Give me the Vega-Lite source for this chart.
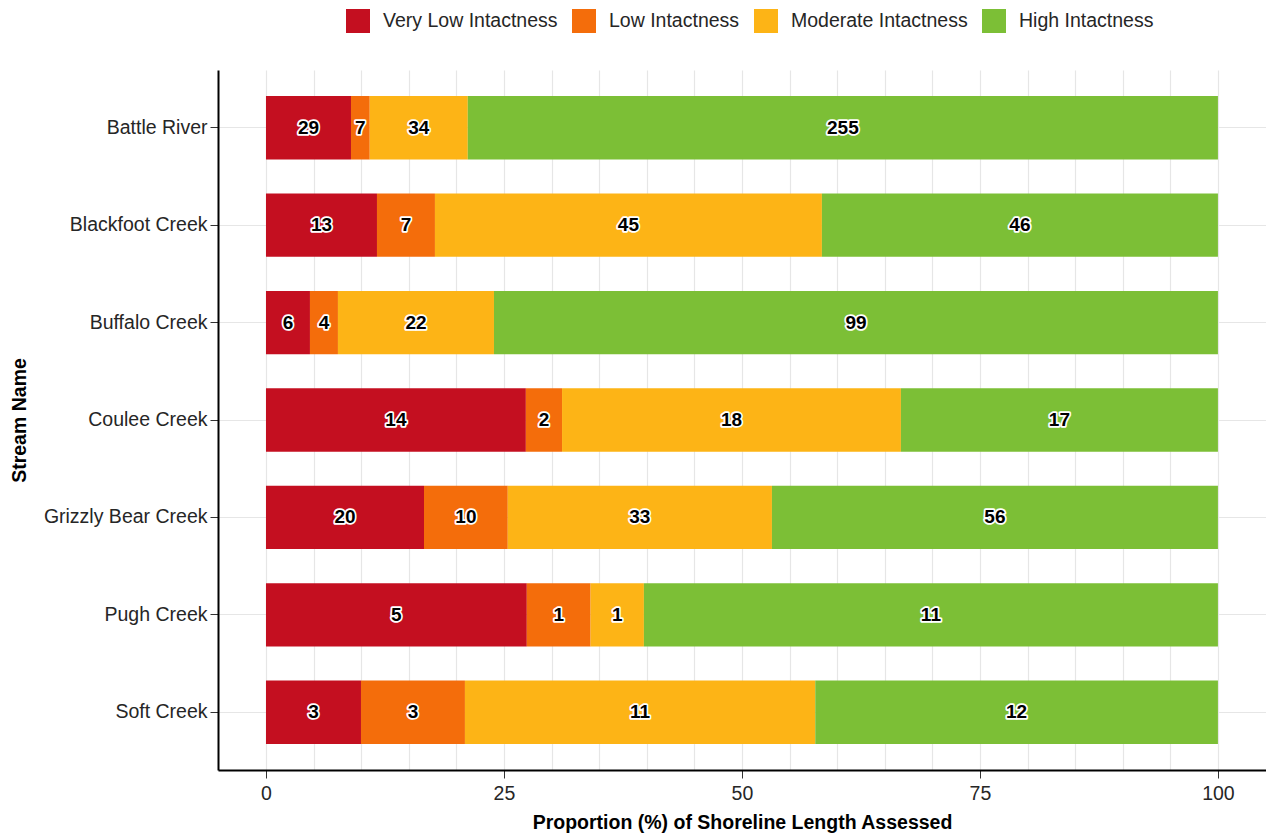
{
  "$schema": "https://vega.github.io/schema/vega-lite/v6.json",
  "width": 1048,
  "height": 700,
  "autosize": {"type": "none"},
  "padding": {"left": 218, "top": 70, "right": 0, "bottom": 69},
  "background": "white",
  "config": {
    "view": {"stroke": null},
    "font": "Liberation Sans",
    "axis": {"labelFont": "Liberation Sans", "titleFont": "Liberation Sans"}
  },
  "data": {
    "values": [
      {"stream": "Battle River", "cls": "Very Low Intactness", "ord": 1, "pct": 8.93, "n": 29},
      {"stream": "Battle River", "cls": "Low Intactness", "ord": 2, "pct": 1.97, "n": 7},
      {"stream": "Battle River", "cls": "Moderate Intactness", "ord": 3, "pct": 10.3, "n": 34},
      {"stream": "Battle River", "cls": "High Intactness", "ord": 4, "pct": 78.8, "n": 255},
      {"stream": "Blackfoot Creek", "cls": "Very Low Intactness", "ord": 1, "pct": 11.66, "n": 13},
      {"stream": "Blackfoot Creek", "cls": "Low Intactness", "ord": 2, "pct": 6.09, "n": 7},
      {"stream": "Blackfoot Creek", "cls": "Moderate Intactness", "ord": 3, "pct": 40.65, "n": 45},
      {"stream": "Blackfoot Creek", "cls": "High Intactness", "ord": 4, "pct": 41.6, "n": 46},
      {"stream": "Buffalo Creek", "cls": "Very Low Intactness", "ord": 1, "pct": 4.62, "n": 6},
      {"stream": "Buffalo Creek", "cls": "Low Intactness", "ord": 2, "pct": 2.94, "n": 4},
      {"stream": "Buffalo Creek", "cls": "Moderate Intactness", "ord": 3, "pct": 16.39, "n": 22},
      {"stream": "Buffalo Creek", "cls": "High Intactness", "ord": 4, "pct": 76.05, "n": 99},
      {"stream": "Coulee Creek", "cls": "Very Low Intactness", "ord": 1, "pct": 27.3, "n": 14},
      {"stream": "Coulee Creek", "cls": "Low Intactness", "ord": 2, "pct": 3.8, "n": 2},
      {"stream": "Coulee Creek", "cls": "Moderate Intactness", "ord": 3, "pct": 35.6, "n": 18},
      {"stream": "Coulee Creek", "cls": "High Intactness", "ord": 4, "pct": 33.3, "n": 17},
      {"stream": "Grizzly Bear Creek", "cls": "Very Low Intactness", "ord": 1, "pct": 16.6, "n": 20},
      {"stream": "Grizzly Bear Creek", "cls": "Low Intactness", "ord": 2, "pct": 8.8, "n": 10},
      {"stream": "Grizzly Bear Creek", "cls": "Moderate Intactness", "ord": 3, "pct": 27.75, "n": 33},
      {"stream": "Grizzly Bear Creek", "cls": "High Intactness", "ord": 4, "pct": 46.85, "n": 56},
      {"stream": "Pugh Creek", "cls": "Very Low Intactness", "ord": 1, "pct": 27.4, "n": 5},
      {"stream": "Pugh Creek", "cls": "Low Intactness", "ord": 2, "pct": 6.7, "n": 1},
      {"stream": "Pugh Creek", "cls": "Moderate Intactness", "ord": 3, "pct": 5.6, "n": 1},
      {"stream": "Pugh Creek", "cls": "High Intactness", "ord": 4, "pct": 60.3, "n": 11},
      {"stream": "Soft Creek", "cls": "Very Low Intactness", "ord": 1, "pct": 9.98, "n": 3},
      {"stream": "Soft Creek", "cls": "Low Intactness", "ord": 2, "pct": 10.92, "n": 3},
      {"stream": "Soft Creek", "cls": "Moderate Intactness", "ord": 3, "pct": 36.8, "n": 11},
      {"stream": "Soft Creek", "cls": "High Intactness", "ord": 4, "pct": 42.3, "n": 12}
    ]
  },
  "encoding": {
    "y": {
      "field": "stream",
      "type": "nominal",
      "sort": "ascending",
      "scale": {"paddingInner": 0.35, "paddingOuter": 0.268},
      "axis": {
        "title": "Stream Name",
        "titleFontSize": 19.5,
        "titleFontWeight": "bold",
        "titleColor": "#000000",
        "titlePadding": 14,
        "labelFontSize": 19.5,
        "labelColor": "#262626",
        "labelPadding": 3,
        "tickSize": 8,
        "tickColor": "#333333",
        "tickWidth": 1,
        "domainColor": "#000000",
        "domainWidth": 2,
        "grid": true,
        "gridColor": "#e6e6e6",
        "gridWidth": 1.2
      }
    }
  },
  "layer": [
    {
      "mark": {"type": "bar"},
      "encoding": {
        "x": {
          "field": "pct",
          "type": "quantitative",
          "stack": "zero",
          "scale": {"domain": [-5.04, 105.05], "nice": false, "zero": false},
          "axis": {
            "title": "Proportion (%) of Shoreline Length Assessed",
            "titleFontSize": 19.5,
            "titleFontWeight": "bold",
            "titleColor": "#000000",
            "titlePadding": 11,
            "values": [0, 5, 10, 15, 20, 25, 30, 35, 40, 45, 50, 55, 60, 65, 70, 75, 80, 85, 90, 95, 100],
            "labelExpr": "datum.value % 25 === 0 ? datum.label : ''",
            "labelFontSize": 19.5,
            "labelColor": "#262626",
            "labelPadding": 6,
            "tickSize": 8,
            "tickColor": "#333333",
            "tickOpacity": {"condition": {"test": "datum.value % 25 !== 0", "value": 0}, "value": 1},
            "domainColor": "#000000",
            "domainWidth": 2,
            "grid": true,
            "gridColor": "#e6e6e6",
            "gridWidth": 1.2
          }
        },
        "color": {
          "field": "cls",
          "type": "nominal",
          "scale": {
            "domain": ["Very Low Intactness", "Low Intactness", "Moderate Intactness", "High Intactness"],
            "range": ["#c40f20", "#f46d0b", "#fdb416", "#7cbf36"]
          },
          "legend": {
            "title": null,
            "orient": "none",
            "direction": "horizontal",
            "legendX": 128,
            "legendY": -61,
            "symbolType": "square",
            "symbolSize": 576,
            "symbolStrokeWidth": 0,
            "symbolOpacity": 1,
            "labelFontSize": 19.5,
            "labelLimit": 0,
            "labelColor": "#262626",
            "labelOffset": 13,
            "columnPadding": 14
          }
        },
        "order": {"field": "ord", "type": "quantitative"}
      }
    },
    {
      "mark": {"type": "text", "fontSize": 19, "fontWeight": "bold", "color": "white", "stroke": "white", "strokeWidth": 3.5, "strokeJoin": "round"},
      "encoding": {
        "x": {"field": "pct", "type": "quantitative", "stack": "zero", "bandPosition": 0.5},
        "text": {"field": "n", "type": "quantitative"},
        "detail": {"field": "cls", "type": "nominal"},
        "order": {"field": "ord", "type": "quantitative"}
      }
    },
    {
      "mark": {"type": "text", "fontSize": 19, "fontWeight": "bold", "color": "black"},
      "encoding": {
        "x": {"field": "pct", "type": "quantitative", "stack": "zero", "bandPosition": 0.5},
        "text": {"field": "n", "type": "quantitative"},
        "detail": {"field": "cls", "type": "nominal"},
        "order": {"field": "ord", "type": "quantitative"}
      }
    }
  ]
}
